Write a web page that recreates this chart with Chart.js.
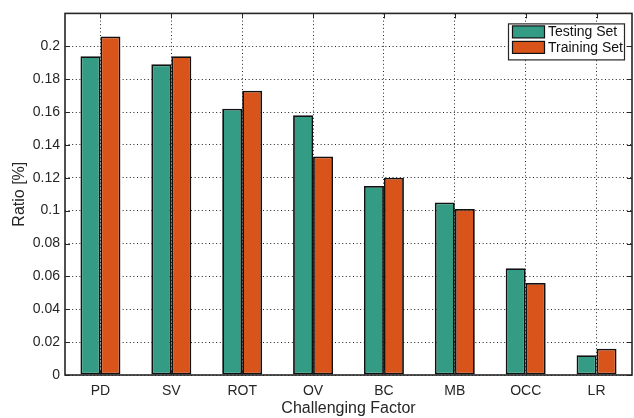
<!DOCTYPE html>
<html>
<head>
<meta charset="utf-8">
<script src="https://cdn.jsdelivr.net/npm/chart.js@4/dist/chart.umd.min.js"></script>
<style>
  html, body { margin: 0; padding: 0; background: #ffffff; }
  #wrap { width: 634px; height: 418px; }
</style>
</head>
<body>
<div id="wrap"><canvas id="c" width="634" height="418"></canvas></div>
<script>
// Challenging factors and the share of sequences showing each one
const categories = ['PD', 'SV', 'ROT', 'OV', 'BC', 'MB', 'OCC', 'LR'];
const testingSet = [0.194, 0.189, 0.162, 0.158, 0.115, 0.105, 0.065, 0.012];
const trainingSet = [0.206, 0.194, 0.173, 0.133, 0.120, 0.101, 0.056, 0.016];
const seriesNames = ['Testing Set', 'Training Set'];
const yTicks = [0, 0.02, 0.04, 0.06, 0.08, 0.1, 0.12, 0.14, 0.16, 0.18, 0.2];
const yMax = 0.22;

const TEAL = '#349c85';
const ORANGE = '#d9541a';
const AXIS = '#262626';
const FONT = "'Liberation Sans', Arial, Helvetica, sans-serif";

// Box around the axes with inward tick marks on all four sides, plus a framed legend
const boxAndLegend = {
  id: 'boxAndLegend',
  afterDatasetsDraw(chart) {
    const ctx = chart.ctx;
    const a = chart.chartArea;
    const xs = chart.scales.x, ys = chart.scales.y;
    const tl = 5;
    ctx.save();
    ctx.strokeStyle = AXIS;
    ctx.lineWidth = 1;
    ctx.beginPath();
    yTicks.forEach(v => {
      const y = Math.round(ys.getPixelForValue(v)) + 0.5;
      ctx.moveTo(a.left, y); ctx.lineTo(a.left + tl, y);
      ctx.moveTo(a.right, y); ctx.lineTo(a.right - tl, y);
    });
    categories.forEach((c, i) => {
      const x = Math.round(xs.getPixelForValue(i)) + 0.5;
      ctx.moveTo(x, a.top); ctx.lineTo(x, a.top + tl);
      ctx.moveTo(x, a.bottom); ctx.lineTo(x, a.bottom - tl);
    });
    ctx.stroke();
    ctx.lineWidth = 1.6;
    ctx.strokeRect(a.left, a.top, a.right - a.left, a.bottom - a.top);

    // legend
    const lx = a.right - 124, ly = a.top + 10, lw = 116, lh = 36;
    ctx.fillStyle = '#ffffff';
    ctx.fillRect(lx, ly, lw, lh);
    ctx.lineWidth = 1.2;
    ctx.strokeStyle = AXIS;
    ctx.strokeRect(lx + 0.5, ly + 0.5, lw, lh);
    ctx.font = '14px ' + FONT;
    ctx.textBaseline = 'middle';
    ctx.textAlign = 'left';
    chart.data.datasets.forEach((ds, i) => {
      const ry = ly + 2.5 + i * 15.5;
      ctx.fillStyle = ds.backgroundColor;
      ctx.fillRect(lx + 4.5, ry, 32, 12);
      ctx.strokeStyle = '#111111';
      ctx.strokeRect(lx + 4.5, ry, 32, 12);
      ctx.fillStyle = '#111111';
      ctx.fillText(ds.label, lx + 40, ry + 6.5);
    });
    ctx.restore();
  }
};

new Chart(document.getElementById('c'), {
  type: 'bar',
  data: {
    labels: categories,
    datasets: [
      { label: seriesNames[0], data: testingSet, backgroundColor: TEAL,
        borderColor: '#111111', borderWidth: 1.8, borderSkipped: false },
      { label: seriesNames[1], data: trainingSet, backgroundColor: ORANGE,
        borderColor: '#111111', borderWidth: 1.8, borderSkipped: false }
    ]
  },
  options: {
    responsive: false,
    animation: false,
    devicePixelRatio: 1,
    layout: { padding: { top: 12, right: 2, left: 0, bottom: 0 } },
    categoryPercentage: 0.564,
    barPercentage: 1.0,
    plugins: { legend: { display: false }, tooltip: { enabled: false } },
    scales: {
      x: {
        grid: { offset: false, color: '#222222', lineWidth: 1, drawTicks: false },
        border: { display: false, dash: [1, 2.6] },
        ticks: { color: '#262626', font: { family: FONT, size: 14 }, padding: 8, maxRotation: 0 },
        title: { display: true, text: 'Challenging Factor', color: '#262626',
                 font: { family: FONT, size: 16 }, padding: { top: 0, bottom: 0 } },
        afterFit(s) { s.height = 43; }
      },
      y: {
        min: 0, max: yMax,
        grid: { color: '#222222', lineWidth: 1, drawTicks: false },
        border: { display: false, dash: [1, 2.6] },
        afterBuildTicks(s) { s.ticks = yTicks.map(v => ({ value: v })); },
        ticks: { color: '#262626', font: { family: FONT, size: 14 }, padding: 5,
                 callback: v => String(v) },
        title: { display: true, text: 'Ratio [%]', color: '#262626',
                 font: { family: FONT, size: 16 }, padding: { top: 10, bottom: 0 } },
        afterFit(s) { s.width = 65; }
      }
    }
  },
  plugins: [boxAndLegend]
});
</script>
</body>
</html>
